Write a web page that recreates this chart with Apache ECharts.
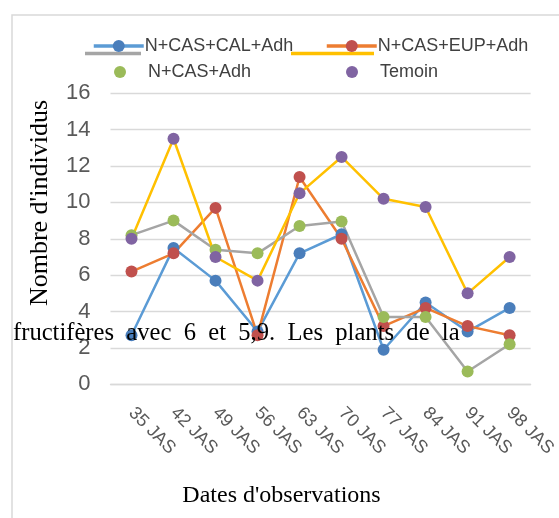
<!DOCTYPE html>
<html>
<head>
<meta charset="utf-8">
<script src="https://cdn.jsdelivr.net/npm/echarts@6/dist/echarts.min.js"></script>
<style>
html,body{margin:0;padding:0;background:#fff;}
#chart{width:559px;height:518px;}
</style>
</head>
<body>
<div id="chart"></div>
<script>
const categories = ['35 JAS','42 JAS','49 JAS','56 JAS','63 JAS','70 JAS','77 JAS','84 JAS','91 JAS','98 JAS'];
const seriesNames = ['N+CAS+CAL+Adh','N+CAS+EUP+Adh','N+CAS+Adh','Temoin'];
const calValues = [2.7, 7.5, 5.7, 2.9, 7.2, 8.25, 1.9, 4.5, 2.9, 4.2];
const eupValues = [6.2, 7.2, 9.7, 2.7, 11.4, 8.0, 3.2, 4.2, 3.2, 2.7];
const casValues = [8.2, 9.0, 7.4, 7.2, 8.7, 8.95, 3.7, 3.7, 0.7, 2.2];
const temoinValues = [8.0, 13.5, 7.0, 5.7, 10.5, 12.5, 10.2, 9.75, 5.0, 7.0];
const yTicks = [0, 16, 2]; // min, max, interval

const lineColors = ['#5B9BD5', '#ED7D31', '#A5A5A5', '#FFC000'];
const markerColors = ['#4A7EBB', '#C0504D', '#9BBB59', '#8064A2'];
const allValues = [calValues, eupValues, casValues, temoinValues];

const sans = "'Liberation Sans', Arial, sans-serif";
const serif = "'Liberation Serif', 'Times New Roman', serif";

const chart = echarts.init(document.getElementById('chart'), null, {renderer:'canvas'});

const series = seriesNames.map((n, i) => ({
  name: n,
  type: 'line',
  data: allValues[i],
  symbol: 'circle',
  symbolSize: 12,
  lineStyle: {color: lineColors[i], width: 2.5},
  itemStyle: {color: markerColors[i]},
  emphasis: {disabled: true},
  animation: false
}));

function legendItem(name, left, top, icon) {
  return {
    left: left, top: top,
    data: [icon ? {name: name, icon: icon} : {name: name}],
    itemWidth: icon ? 12 : 50,
    itemHeight: icon ? 12 : 15,
    padding: 0,
    lineStyle: {width: 3.5},
    textStyle: {fontFamily: sans, fontSize: 18, color: '#404040', padding: icon ? [0,0,0,17] : [0,0,0,-4]},
    selectedMode: false
  };
}

const option = {
  backgroundColor: '#fff',
  animation: false,
  grid: {left: 110.5, right: 25.5, top: 93.3, bottom: 133.7, containLabel: false},
  legend: [
    legendItem(seriesNames[0], 92, 37),
    legendItem(seriesNames[1], 325, 37),
    legendItem(seriesNames[2], 114, 63, 'circle'),
    legendItem(seriesNames[3], 346, 63, 'circle')
  ],
  xAxis: {
    type: 'category',
    data: categories,
    boundaryGap: true,
    axisLine: {show: true, lineStyle: {color: '#d9d9d9', width: 1.3}},
    axisTick: {show: false},
    axisLabel: {rotate: -45, margin: 26, fontFamily: sans, fontSize: 18, color: '#595959', interval: 0}
  },
  yAxis: {
    type: 'value',
    min: yTicks[0], max: yTicks[1], interval: yTicks[2],
    axisLine: {show: false},
    axisTick: {show: false},
    splitLine: {lineStyle: {color: '#d9d9d9', width: 1.3}},
    axisLabel: {margin: 20, fontFamily: sans, fontSize: 22, color: '#595959'}
  },
  graphic: [
    {type: 'rect', z: -10, shape: {x: 12, y: 15, width: 700, height: 700}, style: {fill: 'none', stroke: '#d9d9d9', lineWidth: 1.5}},
    {type: 'line', z: 0, shape: {x1: 85, y1: 53.5, x2: 141, y2: 53.5}, style: {stroke: '#A5A5A5', lineWidth: 3.5}},
    {type: 'line', z: 0, shape: {x1: 291, y1: 53.5, x2: 374, y2: 53.5}, style: {stroke: '#FFC000', lineWidth: 3.5}},
    {type: 'text', z: 100, x: 40, y: 203, rotation: Math.PI/2,
      style: {text: "Nombre d'individus", font: "26px " + serif, fill: '#000', align: 'center', verticalAlign: 'middle'}},
    {type: 'text', z: 100, x: 281.5, y: 496,
      style: {text: "Dates d'observations", font: "24px " + serif, fill: '#000', align: 'center', verticalAlign: 'middle'}},
    {type: 'text', z: 100, x: 13, y: 334,
      style: {text: "fructifères  avec  6  et  5,9.  Les  plants  de  la", font: "24.6px " + serif, fill: '#000', align: 'left', verticalAlign: 'middle'}}
  ],
  series: series
};
chart.setOption(option);
</script>
</body>
</html>
